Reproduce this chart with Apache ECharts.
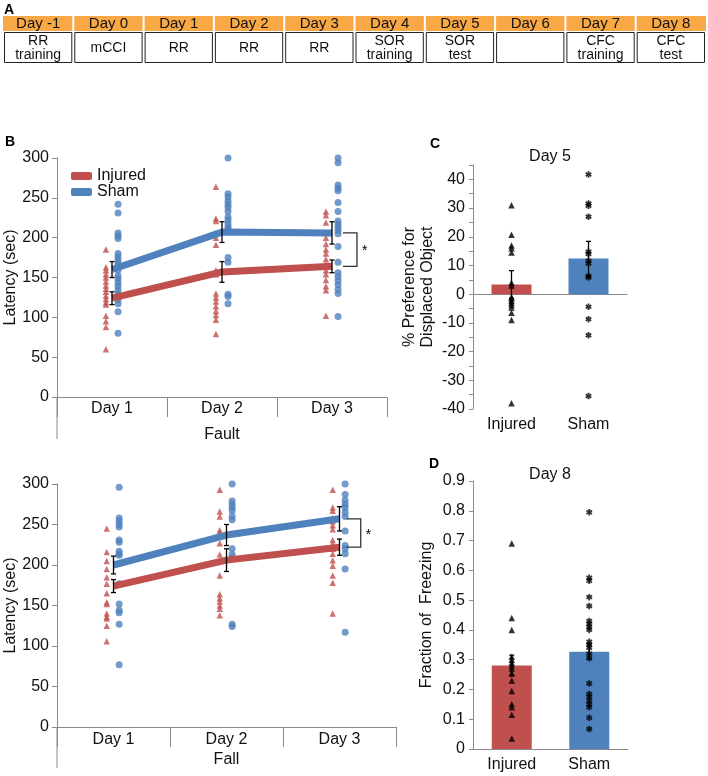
<!DOCTYPE html>
<html><head><meta charset="utf-8">
<script src="https://cdn.jsdelivr.net/npm/echarts@6/dist/echarts.min.js"></script>
<style>html,body{margin:0;padding:0;background:#fff}#c{width:708px;height:776px}</style>
</head><body><div id="c"></div><script>
// ---------- data ----------
const timelineDays = ['Day -1','Day 0','Day 1','Day 2','Day 3','Day 4','Day 5','Day 6','Day 7','Day 8'];
const timelineTasks = ['RR\ntraining','mCCI','RR','RR','RR','SOR\ntraining','SOR\ntest','','CFC\ntraining','CFC\ntest'];

const dayCats = ['Day 1','Day 2','Day 3'];
const groupCats = ['Injured','Sham'];

// Panel B top: Fault latency (sec)
const faultInjuredPts = [
  [185,163,159,154,150,145,140,136,132,127,123,119,116,102,95,88,60],
  [264,224,221,206,200,191,159,154,130,125,120,114,108,103,97,79],
  [233,228,219,206,200,192,185,180,173,166,159,154,147,139,134,102]
];
const faultShamPts = [
  [242,231,206,202,199,180,176,172,168,164,159,152,148,143,139,134,129,126,122,117,107,80],
  [300,255,251,246,242,238,233,226,222,217,213,210,175,169,129,126,117],
  [300,294,266,262,259,244,233,221,217,213,209,205,189,169,156,151,146,141,135,130,101]
];
const faultInjuredMean = [124,157,164];
const faultInjuredSem = [8,13,8];
const faultShamMean = [160,207,206];
const faultShamSem = [10,13,14];

// Panel B bottom: Fall latency (sec)
const fallInjuredPts = [
  [245,216,205,195,185,177,165,154,152,140,136,134,125,106],
  [293,266,260,243,240,235,227,213,187,164,159,155,150,146,138],
  [293,271,267,258,254,249,244,231,226,220,214,206,199,187,178,140]
];
const fallShamPts = [
  [296,258,254,250,247,231,228,217,214,212,177,152,144,141,127,77],
  [300,279,275,271,267,260,256,220,213,209,127,124],
  [300,287,280,275,271,265,260,242,224,220,214,195,117]
];
const fallInjuredMean = [174,206,222];
const fallInjuredSem = [8,14,10];
const fallShamMean = [200,237,257];
const fallShamSem = [11,13,15];

// Panel C: % preference for displaced object (Day 5)
const prefMean = [3.4,12.4];
const prefSem = [4.8,6];
const prefInjuredPts = [31,20.7,17,16,14.5,4,3,-1,-1.5,-2.3,-3,-3.8,-4.6,-6.5,-9,-38];
const prefShamPts = [41.7,31.6,30.8,27,14.8,14,11.6,10.7,6.3,5.8,-4.4,-8.7,-14.3,-35.5];

// Panel D: fraction of freezing (Day 8)
const freezeMean = [0.28,0.327];
const freezeSem = [0.035,0.025];
const freezeInjuredPts = [0.69,0.44,0.40,0.31,0.30,0.29,0.28,0.27,0.255,0.23,0.195,0.15,0.14,0.115,0.035];
const freezeShamPts = [0.795,0.575,0.565,0.51,0.48,0.43,0.42,0.41,0.40,0.36,0.35,0.34,0.32,0.305,0.22,0.185,0.175,0.162,0.15,0.14,0.105,0.067];

// ---------- styling ----------
const FONT = '"Liberation Sans", Arial, sans-serif';
const RED = '#C0504D', BLUE = '#4F81BD', AXIS = '#8a8a8a', TXT = '#111';
const ASTER = 'path://M3.6,0H6.4V2.6L8.6,1.2L10,3.6L7.8,5L10,6.4L8.6,8.8L6.4,7.4V10H3.6V7.4L1.4,8.8L0,6.4L2.2,5L0,3.6L1.4,1.2L3.6,2.6Z';

function scatterData(pts, off){
  const out = [];
  pts.forEach((arr,i)=>arr.forEach(v=>out.push([i+0.5+off, v])));
  return out;
}
function meanData(m){ return m.map((v,i)=>[i+0.5, v]); }
function errData(m, s, xf){ return m.map((v,i)=>[xf(i), v - s[i], v + s[i]]); }

function errRender(params, api){
  const x = api.value(0);
  const p1 = api.coord([x, api.value(1)]);
  const p2 = api.coord([x, api.value(2)]);
  const c = 2.5, st = {stroke:'#000', lineWidth:1.3};
  return {type:'group', children:[
    {type:'line', shape:{x1:p1[0],y1:p1[1],x2:p2[0],y2:p2[1]}, style:st},
    {type:'line', shape:{x1:p1[0]-c,y1:p1[1],x2:p1[0]+c,y2:p1[1]}, style:st},
    {type:'line', shape:{x1:p2[0]-c,y1:p2[1],x2:p2[0]+c,y2:p2[1]}, style:st}
  ]};
}
function bracketRender(params, api){
  const a = api.coord([api.value(0), api.value(2)]);
  const b = api.coord([api.value(1), api.value(2)]);
  const c = api.coord([api.value(1), api.value(3)]);
  const d = api.coord([api.value(0), api.value(3)]);
  return {type:'group', children:[
    {type:'polyline', shape:{points:[a,b,c,d]}, style:{stroke:'#333', lineWidth:1.3, fill:null}},
    {type:'text', style:{text:'*', x:b[0]+5, y:(b[1]+c[1])/2+2, font:'14px '+FONT, fill:'#000', align:'left', verticalAlign:'middle'}}
  ]};
}

// ---------- panel A graphics ----------
const graphics = [];
const tL = 3, tR = 706, hTop = 16, hBot = 31, bBot = 63;
const colW = (tR - tL) / timelineDays.length;
graphics.push({type:'rect', shape:{x:tL, y:hTop, width:tR-tL, height:hBot-hTop}, style:{fill:'#F9A846'}});
timelineDays.forEach((d,i)=>{
  const cx = tL + colW*(i+0.5);
  if (i>0) graphics.push({type:'line', shape:{x1:tL+colW*i, y1:hTop, x2:tL+colW*i, y2:hBot}, style:{stroke:'#fff', lineWidth:2}});
  graphics.push({type:'text', style:{text:d, x:cx, y:(hTop+hBot)/2+0.5, font:'15px '+FONT, fill:'#111', align:'center', verticalAlign:'middle'}});
  graphics.push({type:'rect', shape:{x:tL+colW*i+1.5, y:hBot+1.5, width:colW-3, height:bBot-hBot-2}, style:{fill:'#fff', stroke:'#222', lineWidth:1}});
  graphics.push({type:'text', style:{text:timelineTasks[i], x:cx, y:(hBot+bBot)/2+1, font:'14px '+FONT, lineHeight:14, fill:'#111', align:'center', verticalAlign:'middle'}});
});
const letters = [['A',4,3],['B',5,135],['C',430,137],['D',429,457]];
letters.forEach(l=>graphics.push({type:'text', style:{text:l[0], x:l[1], y:l[2], font:'bold 14px '+FONT, fill:'#000'}}));
graphics.push({type:'text', style:{text:'Day 5', x:550, y:157, font:'16px '+FONT, fill:TXT, align:'center', verticalAlign:'middle'}});
graphics.push({type:'text', style:{text:'Day 8', x:550, y:475, font:'16px '+FONT, fill:TXT, align:'center', verticalAlign:'middle'}});
// category-axis frame extensions (Excel multi-level axis)
graphics.push({type:'line', shape:{x1:57, y1:397, x2:57, y2:439}, style:{stroke:AXIS, lineWidth:1}});
graphics.push({type:'line', shape:{x1:57, y1:727, x2:57, y2:768}, style:{stroke:AXIS, lineWidth:1}});

// ---------- axes ----------
const lbl = {color:TXT, fontSize:16, fontFamily:FONT};
function valX(grid){ return {type:'value', gridIndex:grid, min:0, max:3, show:false}; }
function catX(grid, data, margin, ticks){
  return {type:'category', gridIndex:grid, data, boundaryGap:true, position:'bottom',
    axisLine:{show:ticks, lineStyle:{color:AXIS}},
    axisTick:{show:ticks, length:20, lineStyle:{color:AXIS}},
    axisLabel:Object.assign({margin, interval:0}, lbl)};
}
function latY(grid){
  return {type:'value', gridIndex:grid, min:0, max:300, interval:50, name:'Latency (sec)', nameLocation:'middle', nameGap:38,
    nameTextStyle:{color:TXT, fontSize:16, fontFamily:FONT},
    axisLine:{show:true, lineStyle:{color:AXIS}}, axisTick:{show:true, length:5, lineStyle:{color:AXIS}},
    splitLine:{show:false}, axisLabel:Object.assign({margin:8}, lbl)};
}

const option = {
  animation:false,
  backgroundColor:'#fff',
  textStyle:{fontFamily:FONT},
  grid:[
    {left:57, top:158, width:330, height:239, outerBoundsMode:'none'},
    {left:57, top:484, width:339, height:243, outerBoundsMode:'none'},
    {left:473, top:165, width:154, height:244, outerBoundsMode:'none'},
    {left:473, top:481, width:155, height:268, outerBoundsMode:'none'}
  ],
  legend:{left:66, top:163, orient:'vertical', itemGap:0, itemWidth:21, itemHeight:8, icon:'roundRect',
    data:['Injured','Sham'], textStyle:{color:TXT, fontSize:16, fontFamily:FONT}, selectedMode:false},
  xAxis:[
    valX(0), catX(0, dayCats, 4, true), catX(0, ['Fault'], 30, false),
    valX(1), catX(1, dayCats, 5, true), catX(1, ['Fall'], 25, false),
    {type:'category', gridIndex:2, data:groupCats, axisLine:{onZero:true, lineStyle:{color:AXIS}}, axisTick:{show:false}, axisLabel:{show:false}},
    {type:'category', gridIndex:2, data:groupCats, position:'bottom', axisLine:{show:false, onZero:false}, axisTick:{show:false}, axisLabel:Object.assign({margin:8}, lbl)},
    {type:'category', gridIndex:3, data:groupCats, axisLine:{lineStyle:{color:AXIS}}, axisTick:{show:false}, axisLabel:Object.assign({margin:8}, lbl)}
  ],
  yAxis:[
    latY(0), latY(1),
    {type:'value', gridIndex:2, min:-40, max:45, interval:5, name:'% Preference for\nDisplaced Object', nameLocation:'middle', nameGap:36,
      nameTextStyle:{color:TXT, fontSize:16, fontFamily:FONT, lineHeight:18},
      axisLine:{show:true, onZero:false, lineStyle:{color:AXIS}}, axisTick:{show:true, length:4, lineStyle:{color:AXIS}}, splitLine:{show:false},
      axisLabel:Object.assign({margin:8, showMaxLabel:true, formatter:v=>(Math.round(v)%10===0?String(Math.round(v)):'')}, lbl)},
    {type:'value', gridIndex:3, min:0, max:0.9, interval:0.1, name:'Fraction of  Freezing', nameLocation:'middle', nameGap:38,
      nameTextStyle:{color:TXT, fontSize:16, fontFamily:FONT},
      axisLine:{show:true, lineStyle:{color:AXIS}}, axisTick:{show:true, length:4, lineStyle:{color:AXIS}}, splitLine:{show:false},
      axisLabel:Object.assign({margin:8, formatter:v=>(v===0?'0':(+v.toFixed(1)).toString())}, lbl)}
  ],
  graphic:{elements:graphics},
  series:[
    // Fault
    {type:'scatter', name:'faultInjPts', xAxisIndex:0, yAxisIndex:0, symbol:'triangle', symbolSize:6.5, itemStyle:{color:RED}, data:scatterData(faultInjuredPts,-0.055), z:2},
    {type:'scatter', name:'faultShamPts', xAxisIndex:0, yAxisIndex:0, symbol:'circle', symbolSize:7, itemStyle:{color:BLUE}, data:scatterData(faultShamPts,0.055), z:2},
    {type:'line', name:'Injured', xAxisIndex:0, yAxisIndex:0, data:meanData(faultInjuredMean), symbol:'none', lineStyle:{color:RED, width:7}, itemStyle:{color:RED}, z:3},
    {type:'line', name:'Sham', xAxisIndex:0, yAxisIndex:0, data:meanData(faultShamMean), symbol:'none', lineStyle:{color:BLUE, width:7}, itemStyle:{color:BLUE}, z:3},
    {type:'custom', name:'faultErrI', xAxisIndex:0, yAxisIndex:0, renderItem:errRender, data:errData(faultInjuredMean, faultInjuredSem, i=>i+0.5), z:5},
    {type:'custom', name:'faultErrS', xAxisIndex:0, yAxisIndex:0, renderItem:errRender, data:errData(faultShamMean, faultShamSem, i=>i+0.5), z:5},
    {type:'custom', name:'faultSig', xAxisIndex:0, yAxisIndex:0, renderItem:bracketRender, data:[[2.6, 2.727, faultShamMean[2], faultInjuredMean[2]]], z:5},
    // Fall
    {type:'scatter', name:'fallInjPts', xAxisIndex:3, yAxisIndex:1, symbol:'triangle', symbolSize:6.5, itemStyle:{color:RED}, data:scatterData(fallInjuredPts,-0.06), z:2},
    {type:'scatter', name:'fallShamPts', xAxisIndex:3, yAxisIndex:1, symbol:'circle', symbolSize:7, itemStyle:{color:BLUE}, data:scatterData(fallShamPts,0.05), z:2},
    {type:'line', name:'fallInj', xAxisIndex:3, yAxisIndex:1, data:meanData(fallInjuredMean), symbol:'none', lineStyle:{color:RED, width:7}, z:3},
    {type:'line', name:'fallSham', xAxisIndex:3, yAxisIndex:1, data:meanData(fallShamMean), symbol:'none', lineStyle:{color:BLUE, width:7}, z:3},
    {type:'custom', name:'fallErrI', xAxisIndex:3, yAxisIndex:1, renderItem:errRender, data:errData(fallInjuredMean, fallInjuredSem, i=>i+0.5), z:5},
    {type:'custom', name:'fallErrS', xAxisIndex:3, yAxisIndex:1, renderItem:errRender, data:errData(fallShamMean, fallShamSem, i=>i+0.5), z:5},
    {type:'custom', name:'fallSig', xAxisIndex:3, yAxisIndex:1, renderItem:bracketRender, data:[[2.564, 2.688, fallShamMean[2], fallInjuredMean[2]]], z:5},
    // C
    {type:'bar', name:'prefBar', xAxisIndex:6, yAxisIndex:2, barWidth:40, data:prefMean.map((v,i)=>({value:v, itemStyle:{color:i?BLUE:RED}})), z:2},
    {type:'scatter', name:'prefInj', xAxisIndex:6, yAxisIndex:2, symbol:'triangle', symbolSize:6.5, itemStyle:{color:'#000'}, data:prefInjuredPts.map(v=>[0,v]), z:4},
    {type:'scatter', name:'prefSham', xAxisIndex:6, yAxisIndex:2, symbol:ASTER, symbolSize:6.5, itemStyle:{color:'#000'}, data:prefShamPts.map(v=>[1,v]), z:4},
    {type:'custom', name:'prefErr', xAxisIndex:6, yAxisIndex:2, renderItem:errRender, data:errData(prefMean, prefSem, i=>i), z:5},
    // D
    {type:'bar', name:'frzBar', xAxisIndex:8, yAxisIndex:3, barWidth:40, data:freezeMean.map((v,i)=>({value:v, itemStyle:{color:i?BLUE:RED}})), z:2},
    {type:'scatter', name:'frzInj', xAxisIndex:8, yAxisIndex:3, symbol:'triangle', symbolSize:6.5, itemStyle:{color:'#000'}, data:freezeInjuredPts.map(v=>[0,v]), z:4},
    {type:'scatter', name:'frzSham', xAxisIndex:8, yAxisIndex:3, symbol:ASTER, symbolSize:6.5, itemStyle:{color:'#000'}, data:freezeShamPts.map(v=>[1,v]), z:4},
    {type:'custom', name:'frzErr', xAxisIndex:8, yAxisIndex:3, renderItem:errRender, data:errData(freezeMean, freezeSem, i=>i), z:5}
  ]
};
const chart = echarts.init(document.getElementById('c'), null, {renderer:'canvas'});
chart.setOption(option);
</script></body></html>
